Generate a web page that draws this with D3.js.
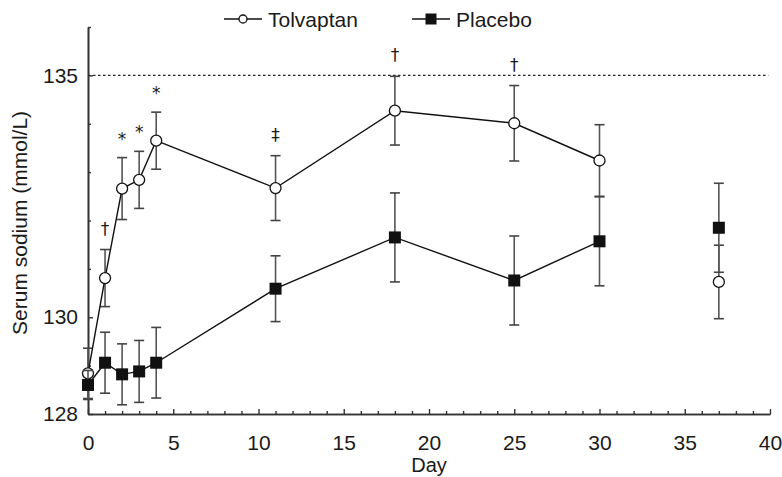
<!DOCTYPE html>
<html>
<head>
<meta charset="utf-8">
<script src="https://cdn.jsdelivr.net/npm/d3@7"></script>
<style>
  html, body { margin: 0; padding: 0; background: #fff; }
  svg { display: block; font-family: "Liberation Sans", Arial, Helvetica, sans-serif; }
</style>
</head>
<body>
<svg id="chart" width="782" height="477"></svg>
<script>
// ---- data ----
const days = [0, 1, 2, 3, 4, 11, 18, 25, 30, 37];
const tolvaptanMean = [128.84, 130.81, 132.66, 132.84, 133.65, 132.67, 134.27, 134.01, 133.24, 130.73];
const tolvaptanSE   = [0.52, 0.59, 0.64, 0.59, 0.59, 0.67, 0.71, 0.78, 0.74, 0.76];
const placeboMean   = [128.60, 129.06, 128.82, 128.88, 129.06, 130.59, 131.65, 130.76, 131.57, 131.85];
const placeboSE     = [0.30, 0.63, 0.63, 0.64, 0.73, 0.68, 0.92, 0.92, 0.92, 0.92];
const lastConnectedDay = 30;
const annotDays    = [1, 2, 3, 4, 11, 18, 25];
const annotSymbols = ["†", "*", "*", "*", "‡", "†", "†"];
const xMajorTicks = [0, 5, 10, 15, 20, 25, 30, 35, 40];
const yMajorTicks = [128, 130, 135];
const referenceLevel = 135;
const seriesNames = ["Tolvaptan", "Placebo"];
const xTitle = "Day";
const yTitle = "Serum sodium (mmol/L)";

// ---- setup ----
const svg = d3.select("#chart");
const x = d3.scaleLinear().domain([0, 40]).range([88, 770]);
const y = d3.scaleLinear().domain([128, 136]).range([414, 27]);
const axisColor = "#333";
const textColor = "#1a1a1a";
const fs = 21;

// reference dotted line
svg.append("line")
  .attr("x1", x(0)).attr("x2", x(39.9))
  .attr("y1", y(referenceLevel)).attr("y2", y(referenceLevel))
  .attr("stroke", "#222").attr("stroke-width", 1.2)
  .attr("stroke-dasharray", "2.5,2.5");

// axes
function styleAxis(g) {
  g.select(".domain").attr("stroke", axisColor).attr("stroke-width", 1.6);
  g.selectAll(".tick line").attr("stroke", axisColor).attr("stroke-width", 1.4);
  g.selectAll("text").attr("fill", textColor).attr("font-size", fs)
    .attr("font-family", "Liberation Sans, Arial, sans-serif");
}
const gxMinor = svg.append("g").attr("transform", `translate(0,${y(128)})`)
  .call(d3.axisBottom(x).tickValues(d3.range(0, 41).filter(d => d % 5 !== 0)).tickSizeInner(-3).tickSizeOuter(0).tickFormat(""));
styleAxis(gxMinor);
const gx = svg.append("g").attr("transform", `translate(0,${y(128)})`)
  .call(d3.axisBottom(x).tickValues(xMajorTicks).tickSizeInner(-5).tickSizeOuter(0).tickPadding(21).tickFormat(d3.format("d")));
styleAxis(gx);

const gyMinor = svg.append("g").attr("transform", `translate(${x(0)},0)`)
  .call(d3.axisLeft(y).tickValues(d3.range(128, 137).filter(d => !yMajorTicks.includes(d))).tickSizeInner(-3).tickSizeOuter(0).tickFormat(""));
styleAxis(gyMinor);
const gy = svg.append("g").attr("transform", `translate(${x(0)},0)`)
  .call(d3.axisLeft(y).tickValues(yMajorTicks).tickSizeInner(-5).tickSizeOuter(0).tickPadding(10).tickFormat(d3.format("d")));
styleAxis(gy);

// axis titles
svg.append("text").attr("x", (x(0) + x(40)) / 2).attr("y", 472)
  .attr("text-anchor", "middle").attr("font-size", 20).attr("fill", textColor).text(xTitle);
svg.append("text").attr("transform", `translate(27,${y(131.95)}) rotate(-90)`)
  .attr("text-anchor", "middle").attr("font-size", fs).attr("fill", textColor).text(yTitle);

// series
const series = [
  { name: seriesNames[0], mean: tolvaptanMean, se: tolvaptanSE, marker: "circle" },
  { name: seriesNames[1], mean: placeboMean, se: placeboSE, marker: "square" }
];
const capW = 5;

series.forEach(s => {
  const pts = days.map((d, i) => ({ day: d, m: s.mean[i], e: s.se[i] }));
  const g = svg.append("g");
  // error bars
  pts.forEach(p => {
    const y1 = y(p.m + p.e), y2 = y(p.m - p.e), cx = x(p.day);
    g.append("line").attr("x1", cx).attr("x2", cx).attr("y1", y1).attr("y2", y2)
      .attr("stroke", "#555").attr("stroke-width", 1.6);
    [y1, y2].forEach(yy => g.append("line").attr("x1", cx - capW).attr("x2", cx + capW)
      .attr("y1", yy).attr("y2", yy).attr("stroke", "#444").attr("stroke-width", 1.6));
  });
  // line
  const line = d3.line().x(p => x(p.day)).y(p => y(p.m));
  g.append("path").datum(pts.filter(p => p.day <= lastConnectedDay))
    .attr("d", line).attr("fill", "none").attr("stroke", "#111").attr("stroke-width", 1.4);
  // markers
  pts.forEach(p => {
    if (s.marker === "circle") {
      g.append("circle").attr("cx", x(p.day)).attr("cy", y(p.m)).attr("r", 5.5)
        .attr("fill", "#fff").attr("stroke", "#111").attr("stroke-width", 1.3);
    } else {
      g.append("rect").attr("x", x(p.day) - 6).attr("y", y(p.m) - 6)
        .attr("width", 12).attr("height", 12).attr("fill", "#111");
    }
  });
});

// significance annotations above tolvaptan
annotDays.forEach((d, i) => {
  const idx = days.indexOf(d);
  const top = y(tolvaptanMean[idx] + tolvaptanSE[idx]);
  const sym = annotSymbols[i];
  svg.append("text").attr("x", x(d)).attr("y", sym === "*" ? top - 13 : top - 15)
    .attr("text-anchor", "middle").attr("font-size", sym === "*" ? 17 : 17)
    .attr("font-family", "DejaVu Sans, sans-serif")
    .attr("fill", textColor).text(sym);
});

// legend
const legY = 19;
const leg1 = svg.append("g");
leg1.append("line").attr("x1", 224).attr("x2", 262).attr("y1", legY).attr("y2", legY)
  .attr("stroke", "#111").attr("stroke-width", 1.4);
leg1.append("circle").attr("cx", 243).attr("cy", legY).attr("r", 4)
  .attr("fill", "#fff").attr("stroke", "#111").attr("stroke-width", 1.3);
leg1.append("text").attr("x", 268).attr("y", legY + 7.5).attr("font-size", fs)
  .attr("fill", textColor).text(seriesNames[0]);
const leg2 = svg.append("g");
leg2.append("line").attr("x1", 412).attr("x2", 450).attr("y1", legY).attr("y2", legY)
  .attr("stroke", "#111").attr("stroke-width", 1.4);
leg2.append("rect").attr("x", 431 - 5.5).attr("y", legY - 5.5).attr("width", 11).attr("height", 11)
  .attr("fill", "#111");
leg2.append("text").attr("x", 456).attr("y", legY + 7.5).attr("font-size", fs)
  .attr("fill", textColor).text(seriesNames[1]);
</script>
</body>
</html>
